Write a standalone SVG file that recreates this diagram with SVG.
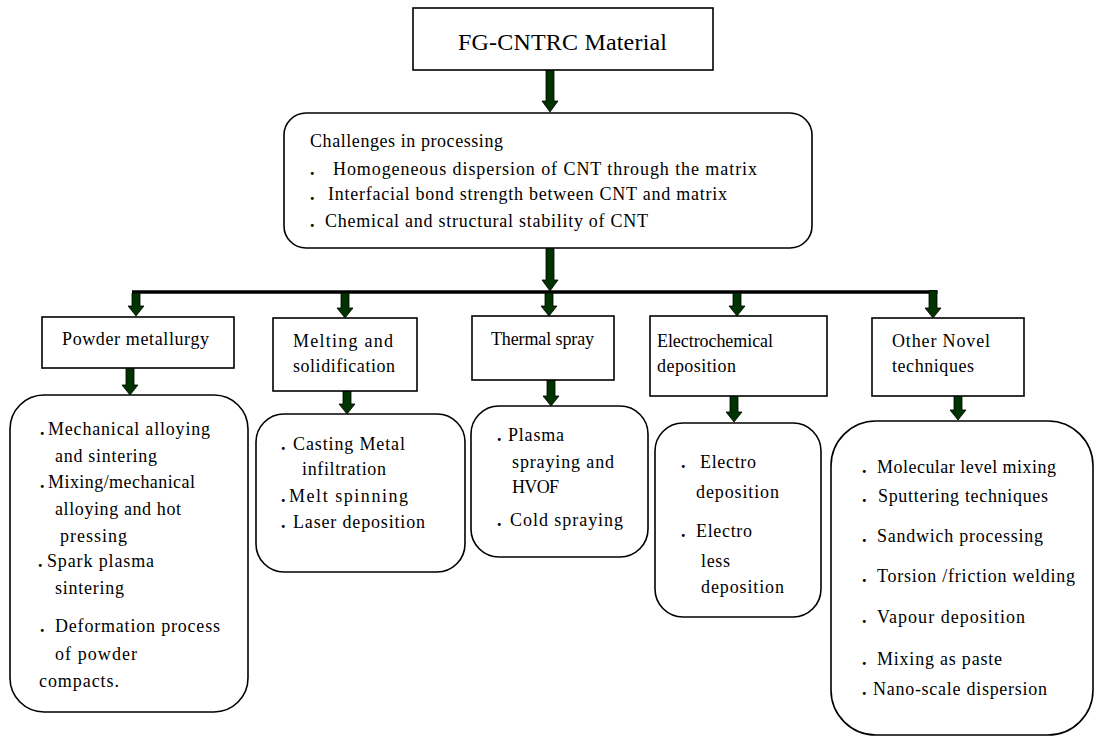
<svg xmlns="http://www.w3.org/2000/svg" width="1099" height="738" viewBox="0 0 1099 738">
<style>
.t{font-family:'Liberation Serif','Times New Roman',serif;font-size:18px;fill:#000}
.big{font-size:24px}
.b{font-weight:bold}
.box{fill:#fff;stroke:#000;stroke-width:1.6}
.arrow{fill:#003300;stroke:#000;stroke-width:0.8}
.bar{stroke:#000;stroke-width:3.5;fill:none}
</style>
<rect width="1099" height="738" fill="#fff"/>

<g id="connectors">
<line class="bar" x1="132" y1="292" x2="937.5" y2="292"/>
<polygon class="arrow" points="546,70 554,70 554,101 558,101 550,112 542,101 546,101"/>
<polygon class="arrow" points="546,248 554,248 554,280 558,280 550,291 542,280 546,280"/>
<polygon class="arrow" points="132,293 140,293 140,306 144,306 136,316 128,306 132,306"/>
<polygon class="arrow" points="341,293 349,293 349,308 353,308 345,318 337,308 341,308"/>
<polygon class="arrow" points="545,293 553,293 553,306 557,306 549,316 541,306 545,306"/>
<polygon class="arrow" points="733,293 741,293 741,306 745,306 737,316 729,306 733,306"/>
<polygon class="arrow" points="929,290.5 937,290.5 937,308 941,308 933,318 925,308 929,308"/>
<polygon class="arrow" points="126,368 134,368 134,385 138,385 130,395 122,385 126,385"/>
<polygon class="arrow" points="343,391 351,391 351,404 355,404 347,414 339,404 343,404"/>
<polygon class="arrow" points="547,380 555,380 555,396 559,396 551,406 543,396 547,396"/>
<polygon class="arrow" points="730,396 738,396 738,412 742,412 734,422 726,412 730,412"/>
<polygon class="arrow" points="954,396 962,396 962,410 966,410 958,420 950,410 954,410"/>
</g>

<g id="node-fg">
<rect class="box" x="413" y="8" width="300" height="62"/>
<text class="t big" x="458" y="50" textLength="209" lengthAdjust="spacing">FG-CNTRC Material</text>
</g>

<g id="node-challenges">
<rect class="box" x="284" y="113" width="528" height="135" rx="22" ry="22"/>
<text class="t" x="310" y="147" textLength="193" lengthAdjust="spacing">Challenges in processing</text>
<text class="t b" x="310" y="175">.</text>
<text class="t" x="333" y="175" textLength="424" lengthAdjust="spacing">Homogeneous dispersion of  CNT through the matrix</text>
<text class="t b" x="310" y="200">.</text>
<text class="t" x="328" y="200" textLength="399" lengthAdjust="spacing">Interfacial bond strength between CNT and matrix</text>
<text class="t b" x="310" y="227">.</text>
<text class="t" x="325" y="227" textLength="323" lengthAdjust="spacing">Chemical and structural stability of CNT</text>
</g>

<g id="node-powder">
<rect class="box" x="42" y="317" width="192" height="51"/>
<text class="t" x="62" y="345" textLength="147" lengthAdjust="spacing">Powder metallurgy</text>
</g>

<g id="node-melting">
<rect class="box" x="273" y="318" width="144" height="73"/>
<text class="t" x="293" y="347" textLength="100" lengthAdjust="spacing">Melting  and</text>
<text class="t" x="293" y="372" textLength="102" lengthAdjust="spacing">solidification</text>
</g>

<g id="node-thermal">
<rect class="box" x="472" y="316" width="142" height="64"/>
<text class="t" x="491" y="345" textLength="103" lengthAdjust="spacing">Thermal spray</text>
</g>

<g id="node-electro">
<rect class="box" x="650" y="316" width="177" height="80"/>
<text class="t" x="657" y="347" textLength="116" lengthAdjust="spacing">Electrochemical</text>
<text class="t" x="657" y="372" textLength="79" lengthAdjust="spacing">deposition</text>
</g>

<g id="node-other">
<rect class="box" x="872" y="318" width="152" height="78"/>
<text class="t" x="892" y="347" textLength="98" lengthAdjust="spacing">Other Novel</text>
<text class="t" x="892" y="372" textLength="82" lengthAdjust="spacing">techniques</text>
</g>

<g id="list-powder">
<rect class="box" x="10" y="395" width="238" height="317" rx="34" ry="34"/>
<text class="t b" x="40" y="435">.</text>
<text class="t" x="48" y="435" textLength="162" lengthAdjust="spacing">Mechanical alloying</text>
<text class="t" x="55" y="462" textLength="102" lengthAdjust="spacing">and sintering</text>
<text class="t b" x="40" y="488">.</text>
<text class="t" x="48" y="488" textLength="147" lengthAdjust="spacing">Mixing/mechanical</text>
<text class="t" x="55" y="515" textLength="126" lengthAdjust="spacing">alloying and hot</text>
<text class="t" x="60" y="542" textLength="67" lengthAdjust="spacing">pressing</text>
<text class="t b" x="38" y="567">.</text>
<text class="t" x="47" y="567" textLength="107" lengthAdjust="spacing">Spark plasma</text>
<text class="t" x="55" y="594" textLength="69" lengthAdjust="spacing">sintering</text>
<text class="t b" x="40" y="632">.</text>
<text class="t" x="55" y="632" textLength="165" lengthAdjust="spacing">Deformation process</text>
<text class="t" x="55" y="660" textLength="82" lengthAdjust="spacing">of powder</text>
<text class="t" x="39" y="687" textLength="80" lengthAdjust="spacing">compacts.</text>
</g>

<g id="list-melting">
<rect class="box" x="256" y="414" width="209" height="158" rx="28" ry="28"/>
<text class="t b" x="281" y="450">.</text>
<text class="t" x="293" y="450" textLength="112" lengthAdjust="spacing">Casting Metal</text>
<text class="t" x="302" y="475" textLength="84" lengthAdjust="spacing">infiltration</text>
<text class="t b" x="281" y="502">.</text>
<text class="t" x="289" y="502" textLength="119" lengthAdjust="spacing">Melt  spinning</text>
<text class="t b" x="281" y="528">.</text>
<text class="t" x="293" y="528" textLength="132" lengthAdjust="spacing">Laser deposition</text>
</g>

<g id="list-thermal">
<rect class="box" x="471" y="406" width="177" height="151" rx="28" ry="28"/>
<text class="t b" x="497" y="441">.</text>
<text class="t" x="508" y="441" textLength="56" lengthAdjust="spacing">Plasma</text>
<text class="t" x="512" y="468" textLength="102" lengthAdjust="spacing">spraying and</text>
<text class="t" x="512" y="493" textLength="47" lengthAdjust="spacing">HVOF</text>
<text class="t b" x="497" y="526">.</text>
<text class="t" x="510" y="526" textLength="113" lengthAdjust="spacing">Cold spraying</text>
</g>

<g id="list-electro">
<rect class="box" x="655" y="423" width="166" height="194" rx="28" ry="28"/>
<text class="t b" x="681" y="468">.</text>
<text class="t" x="700" y="468" textLength="56" lengthAdjust="spacing">Electro</text>
<text class="t" x="696" y="498" textLength="83" lengthAdjust="spacing">deposition</text>
<text class="t b" x="681" y="537">.</text>
<text class="t" x="696" y="537" textLength="56" lengthAdjust="spacing">Electro</text>
<text class="t" x="701" y="567" textLength="29" lengthAdjust="spacing">less</text>
<text class="t" x="701" y="593" textLength="83" lengthAdjust="spacing">deposition</text>
</g>

<g id="list-other">
<rect class="box" x="831" y="421" width="262" height="314" rx="45" ry="45"/>
<text class="t b" x="862" y="473">.</text>
<text class="t" x="877" y="473" textLength="179" lengthAdjust="spacing">Molecular level mixing</text>
<text class="t b" x="862" y="502">.</text>
<text class="t" x="878" y="502" textLength="170" lengthAdjust="spacing">Sputtering techniques</text>
<text class="t b" x="862" y="542">.</text>
<text class="t" x="877" y="542" textLength="166" lengthAdjust="spacing">Sandwich processing</text>
<text class="t b" x="862" y="582">.</text>
<text class="t" x="877" y="582" textLength="198" lengthAdjust="spacing">Torsion /friction welding</text>
<text class="t b" x="862" y="623">.</text>
<text class="t" x="877" y="623" textLength="148" lengthAdjust="spacing">Vapour deposition</text>
<text class="t b" x="862" y="665">.</text>
<text class="t" x="877" y="665" textLength="125" lengthAdjust="spacing">Mixing as paste</text>
<text class="t b" x="862" y="695">.</text>
<text class="t" x="873" y="695" textLength="174" lengthAdjust="spacing">Nano-scale dispersion</text>
</g>
</svg>
